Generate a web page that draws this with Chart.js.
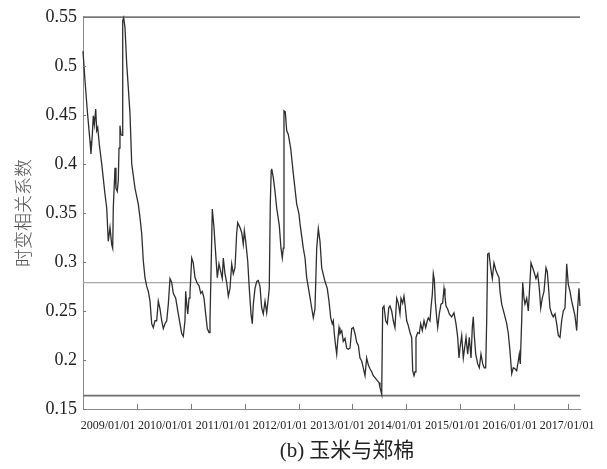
<!DOCTYPE html>
<html>
<head>
<meta charset="utf-8">
<script src="https://cdn.jsdelivr.net/npm/chart.js@4.4.1/dist/chart.umd.min.js"></script>
<style>
    html, body { margin: 0; padding: 0; background: #fff; }
    canvas { display: block; }
</style>
</head>
<body>
<canvas id="corr-chart" width="607" height="469"></canvas>
<script>
// Dates as decimal years
const dates = [
    2008.000, 2008.037, 2008.080, 2008.130, 2008.148, 2008.173, 2008.191, 2008.210, 2008.236, 2008.254,
    2008.273, 2008.302, 2008.347, 2008.408, 2008.440, 2008.469, 2008.501, 2008.532, 2008.551, 2008.562,
    2008.594, 2008.612, 2008.636, 2008.655, 2008.668, 2008.686, 2008.705, 2008.724, 2008.737, 2008.755,
    2008.779, 2008.811, 2008.840, 2008.872, 2008.904, 2008.965, 2009.026, 2009.058, 2009.089, 2009.119,
    2009.150, 2009.182, 2009.212, 2009.243, 2009.275, 2009.304, 2009.336, 2009.367, 2009.397, 2009.429,
    2009.460, 2009.490, 2009.521, 2009.553, 2009.583, 2009.614, 2009.646, 2009.675, 2009.720, 2009.768,
    2009.831, 2009.861, 2009.892, 2009.905, 2009.924, 2009.943, 2009.967, 2009.985, 2010.017, 2010.046,
    2010.078, 2010.121, 2010.152, 2010.184, 2010.213, 2010.245, 2010.276, 2010.306, 2010.338, 2010.356,
    2010.375, 2010.399, 2010.430, 2010.462, 2010.492, 2010.523, 2010.555, 2010.584, 2010.603, 2010.634,
    2010.666, 2010.696, 2010.727, 2010.759, 2010.788, 2010.820, 2010.851, 2010.870, 2010.913, 2010.944,
    2010.974, 2010.993, 2011.019, 2011.056, 2011.085, 2011.117, 2011.141, 2011.160, 2011.191, 2011.223,
    2011.252, 2011.284, 2011.315, 2011.345, 2011.377, 2011.408, 2011.438, 2011.456, 2011.475, 2011.492,
    2011.501, 2011.531, 2011.562, 2011.594, 2011.642, 2011.673, 2011.698, 2011.716, 2011.729, 2011.753,
    2011.779, 2011.809, 2011.853, 2011.872, 2011.902, 2011.965, 2012.007, 2012.026, 2012.087, 2012.119,
    2012.150, 2012.193, 2012.243, 2012.273, 2012.304, 2012.336, 2012.366, 2012.397, 2012.429, 2012.490,
    2012.532, 2012.564, 2012.596, 2012.625, 2012.644, 2012.662, 2012.688, 2012.707, 2012.725, 2012.750,
    2012.768, 2012.800, 2012.829, 2012.861, 2012.892, 2012.922, 2012.954, 2012.985, 2013.015, 2013.046,
    2013.078, 2013.108, 2013.139, 2013.171, 2013.200, 2013.232, 2013.263, 2013.293, 2013.325, 2013.356,
    2013.386, 2013.417, 2013.460, 2013.492, 2013.510, 2013.542, 2013.560, 2013.584, 2013.616, 2013.646,
    2013.672, 2013.696, 2013.727, 2013.757, 2013.788, 2013.820, 2013.849, 2013.881, 2013.900, 2013.931,
    2013.955, 2013.974, 2014.006, 2014.035, 2014.067, 2014.098, 2014.117, 2014.141, 2014.160, 2014.178,
    2014.210, 2014.239, 2014.265, 2014.295, 2014.327, 2014.358, 2014.388, 2014.406, 2014.438, 2014.456,
    2014.481, 2014.499, 2014.518, 2014.536, 2014.562, 2014.581, 2014.610, 2014.642, 2014.673, 2014.698,
    2014.716, 2014.735, 2014.766, 2014.796, 2014.840, 2014.883, 2014.920, 2014.952, 2014.976, 2014.994,
    2015.026, 2015.056, 2015.087, 2015.106, 2015.137, 2015.167, 2015.199, 2015.223, 2015.241, 2015.260,
    2015.286, 2015.323, 2015.353, 2015.384, 2015.416, 2015.445, 2015.471, 2015.490, 2015.508, 2015.532,
    2015.564, 2015.594, 2015.625, 2015.657, 2015.686, 2015.718, 2015.737, 2015.768, 2015.811, 2015.861,
    2015.891, 2015.922, 2015.954, 2015.983, 2016.015, 2016.046, 2016.076, 2016.095, 2016.113, 2016.139,
    2016.158, 2016.182, 2016.200, 2016.232, 2016.262, 2016.293, 2016.312, 2016.343, 2016.373, 2016.404,
    2016.436, 2016.466, 2016.492, 2016.521, 2016.553, 2016.590, 2016.614, 2016.633, 2016.664, 2016.696,
    2016.725, 2016.757, 2016.788, 2016.818, 2016.850, 2016.881, 2016.911, 2016.942, 2016.961, 2016.974,
    2017.004, 2017.035, 2017.067, 2017.096, 2017.128, 2017.160, 2017.178, 2017.202, 2017.221
];

// Time-varying correlation, corn vs Zhengzhou cotton
const corr = [
    0.515, 0.485, 0.454, 0.423, 0.410, 0.430, 0.449, 0.440, 0.456, 0.434,
    0.437, 0.420, 0.400, 0.369, 0.355, 0.321, 0.335, 0.318, 0.314, 0.355,
    0.396, 0.375, 0.372, 0.383, 0.416, 0.439, 0.430, 0.429, 0.546, 0.549,
    0.539, 0.502, 0.478, 0.451, 0.400, 0.375, 0.359, 0.345, 0.329, 0.301,
    0.284, 0.275, 0.270, 0.260, 0.237, 0.233, 0.240, 0.240, 0.260, 0.252,
    0.240, 0.232, 0.237, 0.240, 0.257, 0.283, 0.279, 0.268, 0.263, 0.247,
    0.227, 0.224, 0.240, 0.270, 0.257, 0.247, 0.263, 0.268, 0.304, 0.299,
    0.284, 0.278, 0.276, 0.268, 0.270, 0.263, 0.247, 0.232, 0.228, 0.240,
    0.289, 0.354, 0.335, 0.308, 0.284, 0.298, 0.290, 0.283, 0.304, 0.288,
    0.279, 0.265, 0.273, 0.298, 0.288, 0.294, 0.329, 0.340, 0.335, 0.330,
    0.318, 0.332, 0.321, 0.301, 0.273, 0.247, 0.237, 0.257, 0.273, 0.280,
    0.281, 0.275, 0.253, 0.247, 0.260, 0.248, 0.263, 0.273, 0.360, 0.393,
    0.395, 0.386, 0.372, 0.355, 0.337, 0.314, 0.304, 0.314, 0.454, 0.453,
    0.434, 0.430, 0.416, 0.406, 0.390, 0.359, 0.349, 0.339, 0.314, 0.304,
    0.284, 0.270, 0.253, 0.243, 0.252, 0.314, 0.334, 0.321, 0.294, 0.280,
    0.273, 0.260, 0.243, 0.237, 0.240, 0.227, 0.214, 0.206, 0.219, 0.233,
    0.227, 0.230, 0.219, 0.222, 0.212, 0.211, 0.212, 0.232, 0.233, 0.227,
    0.218, 0.215, 0.202, 0.199, 0.192, 0.184, 0.202, 0.195, 0.191, 0.188,
    0.184, 0.182, 0.179, 0.177, 0.172, 0.165, 0.253, 0.255, 0.240, 0.237,
    0.253, 0.255, 0.250, 0.240, 0.233, 0.263, 0.258, 0.247, 0.263, 0.258,
    0.265, 0.257, 0.240, 0.235, 0.228, 0.223, 0.189, 0.184, 0.188, 0.223,
    0.228, 0.227, 0.237, 0.230, 0.240, 0.233, 0.240, 0.243, 0.240, 0.253,
    0.267, 0.288, 0.282, 0.260, 0.243, 0.233, 0.247, 0.257, 0.258, 0.273,
    0.265, 0.255, 0.252, 0.247, 0.244, 0.248, 0.237, 0.223, 0.202, 0.212,
    0.225, 0.202, 0.215, 0.223, 0.206, 0.223, 0.202, 0.233, 0.244, 0.225,
    0.206, 0.196, 0.192, 0.206, 0.196, 0.192, 0.192, 0.240, 0.308, 0.309,
    0.294, 0.283, 0.299, 0.292, 0.288, 0.284, 0.270, 0.257, 0.248, 0.237,
    0.227, 0.209, 0.186, 0.192, 0.191, 0.189, 0.199, 0.206, 0.196, 0.240,
    0.279, 0.263, 0.257, 0.263, 0.250, 0.280, 0.299, 0.294, 0.289, 0.283,
    0.288, 0.273, 0.253, 0.263, 0.270, 0.294, 0.290, 0.277, 0.253, 0.247,
    0.244, 0.247, 0.237, 0.225, 0.223, 0.240, 0.250, 0.253, 0.277, 0.298,
    0.277, 0.270, 0.260, 0.253, 0.245, 0.230, 0.253, 0.273, 0.255
];

// Reference levels drawn across the plot
const corrMax = 0.5497;
const corrMean = 0.2789;
const corrMin = 0.1636;

// Axis ranges and labels
const xStart = 2008.0;
const xEnd = 2017.221;
const tickYears = [2009, 2010, 2011, 2012, 2013, 2014, 2015, 2016, 2017];
const xLabels = tickYears.map(y => `${y}/01/01`);

const serif = '"Liberation Serif", "Times New Roman", serif';
const captionFont = '21px "Liberation Serif", "Noto Sans CJK SC", serif';

// Level line from one end of the x range to the other
const levelLine = (value, color, width) => ({
    data: [{ x: xStart, y: value }, { x: xEnd, y: value }],
    borderColor: color,
    borderWidth: width,
    pointRadius: 0,
    clip: 4
});

// Small inward tick marks on both axes, plus the caption under the chart
const innerTicks = {
    id: 'innerTicks',
    afterDraw(chart) {
        const { ctx, chartArea, scales: { x, y } } = chart;
        ctx.save();
        ctx.strokeStyle = '#777';
        ctx.lineWidth = 1;
        ctx.beginPath();
        tickYears.forEach(yr => {
            const px = Math.round(x.getPixelForValue(yr)) + 0.5;
            ctx.moveTo(px, chartArea.bottom);
            ctx.lineTo(px, chartArea.bottom - 5);
        });
        y.ticks.forEach(t => {
            const py = Math.round(y.getPixelForValue(t.value)) + 0.5;
            ctx.moveTo(chartArea.left, py);
            ctx.lineTo(chartArea.left + 3, py);
        });
        ctx.stroke();

        ctx.fillStyle = '#222';
        ctx.font = captionFont;
        ctx.textAlign = 'center';
        ctx.textBaseline = 'alphabetic';
        ctx.fillText('(b) 玉米与郑棉', 347, 457);
        ctx.restore();
    }
};

const ctx = document.getElementById('corr-chart').getContext('2d');

new Chart(ctx, {
    type: 'line',
    data: {
        datasets: [
            {
                label: '时变相关系数',
                data: dates.map((d, i) => ({ x: d, y: corr[i] })),
                borderColor: '#2e2e2e',
                borderWidth: 1.3,
                pointRadius: 0,
                tension: 0,
                clip: 4
            },
            levelLine(corrMax, '#7a7a7a', 1.6),
            levelLine(corrMean, '#a8a8a8', 1.2),
            levelLine(corrMin, '#6e6e6e', 1.6)
        ]
    },
    options: {
        responsive: false,
        animation: false,
        layout: { padding: { top: 16, right: 27, bottom: 32, left: 0 } },
        scales: {
            x: {
                type: 'linear',
                min: xStart,
                max: xEnd,
                grid: { display: false, drawTicks: false },
                border: { display: true, color: '#8a8a8a', width: 1 },
                ticks: { display: false },
                afterFit: s => { s.height = 2; }
            },
            xl: {
                type: 'linear',
                position: 'bottom',
                weight: 1,
                min: -0.4355,
                max: 8.223,
                grid: { display: false, drawTicks: false },
                border: { display: false },
                afterBuildTicks: s => { s.ticks = xLabels.map((_, i) => ({ value: i })); },
                ticks: {
                    autoSkip: false,
                    maxRotation: 0,
                    minRotation: 0,
                    padding: 8,
                    color: '#222',
                    font: { family: serif, size: 12 },
                    callback: (v, i) => xLabels[i]
                },
                afterFit: s => { s.height = 26; }
            },
            y: {
                min: 0.15,
                max: 0.55,
                grid: { display: false, drawTicks: false },
                border: { display: true, color: '#8a8a8a', width: 1 },
                ticks: {
                    stepSize: 0.05,
                    padding: 6,
                    color: '#222',
                    font: { family: serif, size: 18 },
                    callback: v => parseFloat(v.toFixed(2)).toString()
                },
                title: {
                    display: true,
                    text: '时变相关系数',
                    color: '#555',
                    font: { family: '"Noto Sans CJK SC", sans-serif', size: 18, weight: 300 },
                    padding: { top: 12, bottom: 0 }
                },
                afterFit: s => { s.width = 83; }
            }
        },
        plugins: {
            legend: { display: false },
            tooltip: { enabled: false }
        }
    },
    plugins: [innerTicks]
});
</script>
</body>
</html>
